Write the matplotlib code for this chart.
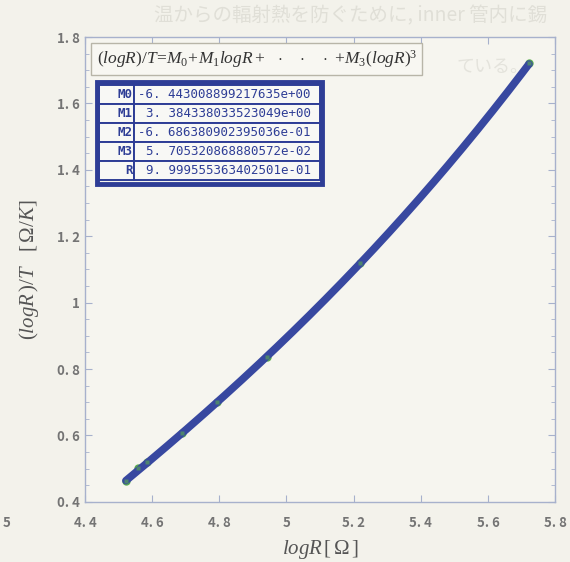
import matplotlib
matplotlib.use("Agg")
import matplotlib.pyplot as plt
import numpy as np
from matplotlib.patches import Rectangle
from matplotlib.ticker import MultipleLocator

plt.rcParams['mathtext.fontset'] = 'custom'
plt.rcParams['mathtext.it'] = 'Liberation Serif:italic'
plt.rcParams['mathtext.rm'] = 'Liberation Serif'
plt.rcParams['mathtext.bf'] = 'Liberation Serif:bold'

# fit coefficients (from the fit table)
coefNames = ["M0", "M1", "M2", "M3", "R"]
coefValues = [-6.443008899217635e+00, 3.384338033523049e+00,
              -6.686380902395036e-01, 5.705320868880572e-02,
              9.999555363402501e-01]

# measured points that show through the fit line
logR = [4.522, 4.558, 4.585, 4.690, 4.794, 4.943, 5.220, 5.722]
logR_T = [0.464, 0.502, 0.520, 0.608, 0.700, 0.837, 1.120, 1.722]

xTicks = [4.4, 4.6, 4.8, 5.0, 5.2, 5.4, 5.6, 5.8]
yTicks = [0.4, 0.6, 0.8, 1.0, 1.2, 1.4, 1.6, 1.8]

bg = '#f3f2eb'
navy = '#2e3d96'
lineBlue = '#3848a0'
green = '#5cae4e'
tickGray = '#747474'
spineCol = '#a7b1cc'

fig = plt.figure(figsize=(5.7, 5.62), dpi=100, facecolor=bg)
ax = fig.add_axes([0.149, 0.107, 0.825, 0.827])
ax.set_facecolor('#f6f5ef')

# cubic fit curve over the measured range
M = coefValues[:4]
xs = np.linspace(min(logR), max(logR), 300)
ys = M[0] + M[1] * xs + M[2] * xs**2 + M[3] * xs**3
ax.plot(logR, logR_T, 'o', color=green, ms=6, mec='none', zorder=2)
ax.plot(xs, ys, '-', color=lineBlue, lw=5.5, solid_capstyle='round', zorder=3)
# the green dots peek through the line here and there
ax.plot(logR, logR_T, 's', color=green, ms=2.5, mec='none', alpha=0.6, zorder=4)

ax.set_xlim(4.4, 5.8)
ax.set_ylim(0.4, 1.8)
ax.set_xticks(xTicks)
ax.set_yticks(yTicks)

def fmtTick(v):
    s = f"{v:.1f}"
    if s.endswith(".0"):
        return s[:-2]
    return s.replace(".", ". ")

ax.set_xticklabels([fmtTick(v) for v in xTicks])
ax.set_yticklabels([fmtTick(v) for v in yTicks])
ax.yaxis.set_minor_locator(MultipleLocator(0.05))
ax.tick_params(which='both', direction='in', top=True, right=True,
               color=spineCol, labelcolor=tickGray, labelsize=9.5)
ax.tick_params(which='major', length=5, width=0.8)
ax.tick_params(which='minor', length=3, width=0.6)
ax.tick_params(axis='x', pad=10)
for lab in ax.get_xticklabels() + ax.get_yticklabels():
    lab.set_family(['Noto Sans CJK JP', 'DejaVu Sans'])
    lab.set_fontweight('bold')
for sp in ax.spines.values():
    sp.set_color(spineCol)
    sp.set_linewidth(1.0)

ax.set_xlabel(r"$logR\,\mathrm{[\,\Omega\,]}$", fontsize=15, color='#555555', labelpad=6)
ax.set_ylabel(r"$(logR\,)/T\ \ \ \mathrm{[\,\Omega/}K\mathrm{]}$", fontsize=15,
              color='#555555', labelpad=12)

# formula box
ax.text(0.025, 0.953,
        r"$(logR)/T\!=\!M_0\!+\!M_1logR+\ \ \cdot\ \ \ \cdot\ \ \ \cdot\ \!+\!M_3(logR)^3$",
        transform=ax.transAxes, ha='left', va='center', fontsize=12.5, color='#333333',
        bbox=dict(boxstyle='square,pad=0.3', fc='#f8f7f2', ec='#b8b5a8', lw=1.0))

# coefficient table
cellText = [[n, f"{v:.15e}".replace(".", ". ", 1)] for n, v in zip(coefNames, coefValues)]
tb = ax.table(cellText=cellText, colWidths=[0.075, 0.395],
              bbox=[0.0298, 0.692, 0.470, 0.204], zorder=6)
tb.auto_set_font_size(False)
for (r, c), cell in tb.get_celld().items():
    cell.set_edgecolor(navy)
    cell.set_linewidth(1.4)
    cell.set_facecolor('#f8f8f5')
    t = cell.get_text()
    t.set_color(navy)
    t.set_fontsize(9)
    t.set_family('DejaVu Sans Mono')
    t.set_ha('right')
    cell.PAD = 0.05
    if c == 0:
        t.set_fontweight('bold')
ax.add_patch(Rectangle((0.0255, 0.684), 0.479, 0.220, transform=ax.transAxes,
                       fill=False, ec=navy, lw=3.5, zorder=7, clip_on=False))

# faint text from the other side of the page
fig.text(0.27, 0.972, "温からの輻射熱を防ぐために, inner 管内に錫", fontsize=14,
         color='#e0dfd7', family=['Noto Sans CJK JP', 'DejaVu Sans'], va='center')
fig.text(0.80, 0.880, "ている。", fontsize=13, color='#e4e3dc',
         family=['Noto Sans CJK JP', 'DejaVu Sans'], va='center')
fig.text(0.005, 0.070, "5", fontsize=9.5, color=tickGray,
         family=['Noto Sans CJK JP', 'DejaVu Sans'], fontweight='bold', va='center')

fig.savefig("out.png", dpi=100, facecolor=bg)
